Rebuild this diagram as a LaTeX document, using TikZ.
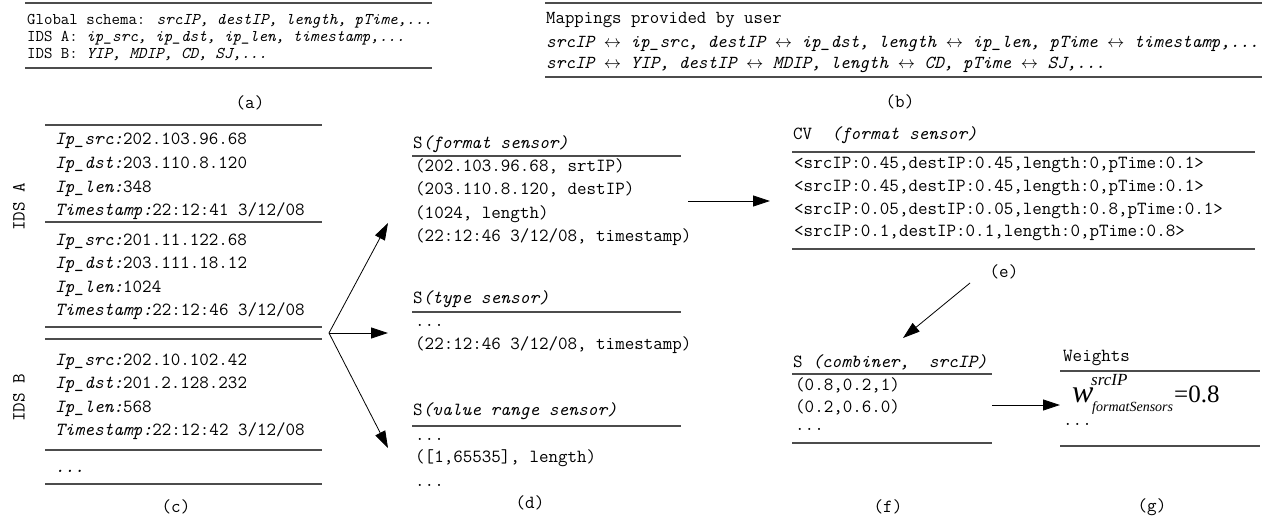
\documentclass[tikz,border=0pt]{standalone}
\usepackage{fontspec}
\newfontfamily\tms{Liberation Serif}
\usetikzlibrary{arrows.meta}

\begin{document}
\begin{tikzpicture}[x=1pt,y=-1pt,
  rule/.style={draw=black!70, line width=1.3pt},
  txt/.style={anchor=base west, inner sep=0pt, font=\ttfamily\fontsize{18.5}{18.5}\selectfont},
  small/.style={anchor=base west, inner sep=0pt, font=\ttfamily\fontsize{16.4}{16.4}\selectfont},
  map/.style={anchor=base west, inner sep=0pt, font=\ttfamily\fontsize{18.3}{18.3}\selectfont},
  lbl/.style={anchor=center, inner sep=0pt, font=\ttfamily\fontsize{18.5}{18.5}\selectfont},
  math/.style={anchor=base west, inner sep=0pt},
  flow/.style={draw=black, line width=0.8pt, -{Triangle[length=17pt,width=11pt]}},
]
\useasboundingbox (0,0) rectangle (1283,523);

% ---- (a) schemas ----
\draw[rule] (25,3) -- (432,3);
\node[small] (a1) at (27,24) {Global schema: \itshape srcIP, destIP, length, pTime,...};
\node[small] (a2) at (27,41) {IDS A: \itshape ip\_src, ip\_dst, ip\_len, timestamp,...};
\node[small] (a3) at (27,58) {IDS B: \itshape YIP, MDIP, CD, SJ,...};
\draw[rule] (25,68) -- (432,68);
\node[lbl] (capa) at (250,103) {(a)};

% ---- (b) mappings ----
\draw[rule] (545,3) -- (1262,3);
\node[map] (b1) at (546,23) {Mappings provided by user};
\node[map] (b2) at (546,47) {\itshape srcIP $\leftrightarrow$ ip\_src, destIP $\leftrightarrow$ ip\_dst, length $\leftrightarrow$ ip\_len, pTime $\leftrightarrow$ timestamp,...};
\node[map] (b3) at (546,68) {\itshape srcIP $\leftrightarrow$ YIP, destIP $\leftrightarrow$ MDIP, length $\leftrightarrow$ CD, pTime $\leftrightarrow$ SJ,...};
\draw[rule] (545,77) -- (1262,77);
\node[lbl] (capb) at (900,102) {(b)};

% ---- (c) raw records ----
\draw[rule] (45,125) -- (322,125);
\node[txt] (c11) at (55,144) {\itshape Ip\_src:\upshape 202.103.96.68};
\node[txt] (c12) at (55,168) {\itshape Ip\_dst:\upshape 203.110.8.120};
\node[txt] (c13) at (55,192) {\itshape Ip\_len:\upshape 348};
\node[txt] (c14) at (55,215) {\itshape Timestamp:\upshape 22:12:41 3/12/08};
\draw[rule] (45,222) -- (322,222);
\node[txt] (c21) at (55,245) {\itshape Ip\_src:\upshape 201.11.122.68};
\node[txt] (c22) at (55,268) {\itshape Ip\_dst:\upshape 203.111.18.12};
\node[txt] (c23) at (55,292) {\itshape Ip\_len:\upshape 1024};
\node[txt] (c24) at (55,315) {\itshape Timestamp:\upshape 22:12:46 3/12/08};
\draw[rule] (45,327) -- (322,327);
\draw[rule] (45,339) -- (322,339);
\node[txt] (c31) at (55,365) {\itshape Ip\_src:\upshape 202.10.102.42};
\node[txt] (c32) at (55,388) {\itshape Ip\_dst:\upshape 201.2.128.232};
\node[txt] (c33) at (55,412) {\itshape Ip\_len:\upshape 568};
\node[txt] (c34) at (55,435) {\itshape Timestamp:\upshape 22:12:42 3/12/08};
\draw[rule] (45,450) -- (322,450);
\node[txt] (c41) at (55,472) {\itshape ...};
\draw[rule] (45,484) -- (322,484);
\node[lbl, rotate=90] (idsa) at (19,207) {IDS A};
\node[lbl, rotate=90] (idsb) at (19,398) {IDS B};
\node[lbl] (capc) at (176,507) {(c)};

% ---- (d) sensors ----
\node[txt] (d1h) at (413,148) {S\itshape(format sensor)};
\draw[rule] (412,156) -- (681,156);
\node[txt] (d11) at (415,171) {(202.103.96.68, srtIP)};
\node[txt] (d12) at (415,194) {(203.110.8.120, destIP)};
\node[txt] (d13) at (415,218) {(1024, length)};
\node[txt] (d14) at (415,241) {(22:12:46 3/12/08, timestamp)};
\node[txt] (d2h) at (413,303) {S\itshape(type sensor)};
\draw[rule] (412,312) -- (681,312);
\node[txt] (d21) at (415,326) {...};
\node[txt] (d22) at (415,349) {(22:12:46 3/12/08, timestamp)};
\node[txt] (d3h) at (413,415) {S\itshape(value range sensor)};
\draw[rule] (412,426) -- (681,426);
\node[txt] (d31) at (415,440) {...};
\node[txt] (d32) at (415,462) {([1,65535], length)};
\node[txt] (d33) at (415,486) {...};
\node[lbl] (capd) at (530,503) {(d)};

\coordinate (fan) at (329,333);
\coordinate (toA) at (388,223);
\coordinate (toB) at (388,333);
\coordinate (toC) at (388,448);
\draw[flow] (fan) -- (toA);
\draw[flow] (fan) -- (toB);
\draw[flow] (fan) -- (toC);

% ---- (e) confidence vectors ----
\node[txt] (eh) at (793,139) {CV\ \ \itshape(format sensor)};
\draw[rule] (792,152) -- (1255,152);
\node[txt] (e1) at (794,168) {<srcIP:0.45,destIP:0.45,length:0,pTime:0.1>};
\node[txt] (e2) at (794,191) {<srcIP:0.45,destIP:0.45,length:0,pTime:0.1>};
\node[txt] (e3) at (794,214) {<srcIP:0.05,destIP:0.05,length:0.8,pTime:0.1>};
\node[txt] (e4) at (794,236) {<srcIP:0.1,destIP:0.1,length:0,pTime:0.8>};
\draw[rule] (792,249) -- (1255,249);
\node[lbl] (cape) at (1004,272) {(e)};

\coordinate (dOut) at (688,201);
\coordinate (eIn) at (770,201);
\draw[flow] (dOut) -- (eIn);

% ---- (f) combiner ----
\node[txt] (fh) at (793,367) {S \itshape(combiner,\ \ srcIP)};
\draw[rule] (792,374) -- (992,374);
\node[txt] (f1) at (795,390) {(0.8,0.2,1)};
\node[txt] (f2) at (795,412) {(0.2,0.6.0)};
\node[txt] (f3) at (795,430) {...};
\draw[rule] (792,443) -- (992,443);
\node[lbl] (capf) at (888,507) {(f)};

\coordinate (eOut) at (970,283);
\coordinate (fIn) at (903,338);
\draw[flow] (eOut) -- (fIn);

% ---- (g) weights ----
\node[txt] (gh) at (1063,361) {Weights};
\draw[rule] (1060,371) -- (1260,371);
\node[math, font=\tms\itshape\fontsize{32}{32}\selectfont] (gw) at (1072,402) {w};
\node[math, font=\tms\itshape\fontsize{17}{17}\selectfont] (gsup) at (1091,385) {srcIP};
\node[math, font=\tms\itshape\fontsize{14}{14}\selectfont] (gsub) at (1092,411) {formatSensors};
\node[math, font=\tms\fontsize{25}{25}\selectfont] (geq) at (1174,402) {=0.8};
\node[txt] (g2) at (1063,425) {...};
\draw[rule] (1060,446) -- (1260,446);
\node[lbl] (capg) at (1152,507) {(g)};

\coordinate (fOut) at (992,405);
\coordinate (gIn) at (1060,405);
\draw[flow] (fOut) -- (gIn);
\end{tikzpicture}
\end{document}
